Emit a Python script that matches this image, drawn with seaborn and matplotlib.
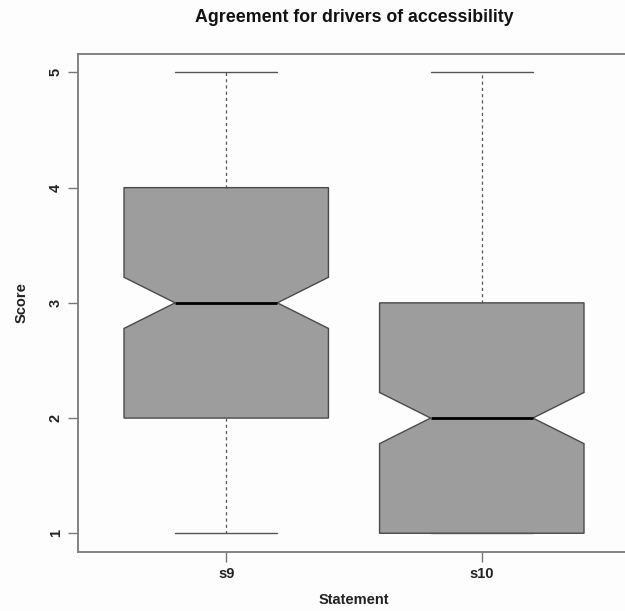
import numpy as np
import pandas as pd
import matplotlib
matplotlib.use("Agg")
import matplotlib.pyplot as plt
import seaborn as sns

# Response counts for each Likert score (1..5) per statement
statements = ["s9", "s10"]
scores = [1, 2, 3, 4, 5]
counts_s9 = [30, 45, 60, 45, 20]
counts_s10 = [55, 55, 50, 25, 15]
y_ticks = [1, 2, 3, 4, 5]

rows = []
for name, counts in zip(statements, [counts_s9, counts_s10]):
    for s, c in zip(scores, counts):
        rows += [(name, s)] * c
df = pd.DataFrame(rows, columns=["Statement", "Score"])

sns.set_style("white")
plt.rcParams["font.family"] = ["Liberation Sans", "DejaVu Sans"]

W, H = 625, 611
fig = plt.figure(figsize=(W / 100, H / 100), dpi=100)
fig.patch.set_facecolor("#fdfdfd")
left, right, top, bottom = 78, 630, 54, 551.7
ax = fig.add_axes([left / W, 1 - bottom / H, (right - left) / W, (bottom - top) / H])
ax.set_facecolor("#fdfdfd")

edge = "#4a4a4a"
sns.boxplot(
    data=df, x="Statement", y="Score", order=statements, ax=ax,
    notch=True, width=0.8, color="#9d9d9d", saturation=1,
    linecolor=edge, linewidth=1.0, whis=1.5,
    whiskerprops=dict(linestyle=(0, (2.5, 2.5)), color="#555555", linewidth=0.9),
    capprops=dict(color="#555555", linewidth=1.0),
    medianprops=dict(color="black", linewidth=2.0),
    boxprops=dict(edgecolor=edge, linewidth=1.0),
)

ax.set_xlim(-0.58, 1.58)
ax.set_ylim(0.84, 5.16)
ax.set_yticks(y_ticks)
ax.set_yticklabels([str(v) for v in y_ticks], rotation=90, va="center",
                   fontsize=10.5, fontweight="bold", color="#222222")
ax.set_xticks(range(len(statements)))
ax.set_xticklabels(statements, fontsize=10.5, fontweight="bold", color="#222222")
ax.tick_params(axis="both", length=7, width=1.0, color="#777777",
               left=True, bottom=True)
ax.tick_params(axis="x", pad=4)
ax.tick_params(axis="y", pad=4)

for side in ["left", "bottom", "top", "right"]:
    ax.spines[side].set_visible(True)
    ax.spines[side].set_color("#7a7a7a")
    ax.spines[side].set_linewidth(1.3)

ax.set_xlabel("")
ax.set_ylabel("")
fig.text((left + right) / 2 / W, 1 - 600 / H, "Statement", ha="center", va="center",
         fontsize=10.5, fontweight="bold", color="#222222")
fig.text(22 / W, 1 - 303 / H, "Score", ha="center", va="center", rotation=90,
         fontsize=10.5, fontweight="bold", color="#222222")
fig.text((left + right) / 2 / W, 1 - 18 / H, "Agreement for drivers of accessibility",
         ha="center", va="center", fontsize=12.8, fontweight="bold", color="#111111")

fig.savefig("out.png", dpi=100, facecolor=fig.get_facecolor())
